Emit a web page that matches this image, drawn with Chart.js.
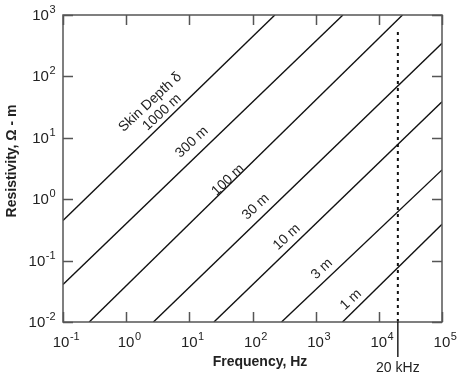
<!DOCTYPE html>
<html>
<head>
<meta charset="utf-8">
<script src="https://cdn.jsdelivr.net/npm/chart.js@4/dist/chart.umd.min.js"></script>
<style>
  body { margin: 0; background: #fff; }
  #grafico { display: block; }
</style>
</head>
<body>
<canvas id="grafico" width="460" height="379"></canvas>
<script>
// Datos (extremos de cada recta de profundidad)
const profundidades = ['1000 m', '300 m', '100 m', '30 m', '10 m', '3 m', '1 m'];
const frecInicio = [0.1, 0.1, 0.26, 2.7, 24.5, 288, 2660];
const resInicio = [0.45, 0.041, 0.01, 0.01, 0.01, 0.01, 0.01];
const frecFin = [226, 2700, 23700, 100000, 100000, 100000, 100000];
const resFin = [1000, 1000, 1000, 347, 38.7, 3.0, 0.39];

// Línea de 20 kHz
const frecMarca = [20000, 20000];
const resMarca = [0.01, 600];

// Exponentes de las marcas de los ejes
const expX = [-1, 0, 1, 2, 3, 4, 5];
const expY = [-2, -1, 0, 1, 2, 3];

// Etiquetas sobre las rectas (en coordenadas de datos)
const etiquetas = [
    { texto: 'Skin Depth \u03b4', f: 2.4, r: 38 },
    { texto: '1000 m', f: 3.7, r: 26 },
    { texto: '300 m', f: 11, r: 8.5 },
    { texto: '100 m', f: 41, r: 2.05 },
    { texto: '30 m', f: 113, r: 0.75 },
    { texto: '10 m', f: 350, r: 0.242 },
    { texto: '3 m', f: 1250, r: 0.073 },
    { texto: '1 m', f: 3600, r: 0.023 }
];

const datasets = profundidades.map((p, i) => ({
    label: p,
    data: [{ x: frecInicio[i], y: resInicio[i] }, { x: frecFin[i], y: resFin[i] }],
    borderColor: '#111',
    borderWidth: 1.4,
    pointRadius: 0,
    fill: false
}));

datasets.push({
    label: '20 kHz',
    data: frecMarca.map((f, i) => ({ x: f, y: resMarca[i] })),
    borderColor: '#111',
    borderWidth: 2,
    borderDash: [3, 4],
    pointRadius: 0,
    fill: false
});

// Dibuja texto "10" con exponente
function potencia(ctx, exp, x, y, align) {
    const base = '10';
    const sup = exp < 0 ? '-' + Math.abs(exp) : String(exp);
    ctx.font = '15px "Liberation Sans", Arial, sans-serif';
    const wb = ctx.measureText(base).width;
    ctx.font = '11px "Liberation Sans", Arial, sans-serif';
    const ws = ctx.measureText(sup).width;
    let x0;
    if (align === 'right') x0 = x - wb - ws;
    else x0 = x - (wb + ws) / 2;
    ctx.textAlign = 'left';
    ctx.textBaseline = 'alphabetic';
    ctx.font = '15px "Liberation Sans", Arial, sans-serif';
    ctx.fillText(base, x0, y);
    ctx.font = '11px "Liberation Sans", Arial, sans-serif';
    ctx.fillText(sup, x0 + wb + 0.5, y - 7);
}

const dibujoExtra = {
    id: 'dibujoExtra',
    afterDatasetsDraw(chart) {
        const ctx = chart.ctx;
        const a = chart.chartArea;
        const sx = chart.scales.x;
        const sy = chart.scales.y;
        ctx.save();

        // Marco
        ctx.strokeStyle = '#555';
        ctx.lineWidth = 1.5;
        ctx.strokeRect(a.left, a.top, a.right - a.left, a.bottom - a.top);

        // Marcas hacia adentro
        ctx.beginPath();
        expX.forEach(e => {
            const px = Math.round(sx.getPixelForValue(Math.pow(10, e))) + 0.5;
            ctx.moveTo(px, a.bottom); ctx.lineTo(px, a.bottom - 10);
            ctx.moveTo(px, a.top); ctx.lineTo(px, a.top + 10);
        });
        expY.forEach(e => {
            const py = Math.round(sy.getPixelForValue(Math.pow(10, e))) + 0.5;
            ctx.moveTo(a.left, py); ctx.lineTo(a.left + 10, py);
            ctx.moveTo(a.right, py); ctx.lineTo(a.right - 10, py);
        });
        ctx.stroke();

        // Etiquetas de marcas
        ctx.fillStyle = '#222';
        expX.forEach(e => {
            potencia(ctx, e, sx.getPixelForValue(Math.pow(10, e)) + 3, a.bottom + 25, 'center');
        });
        expY.forEach(e => {
            potencia(ctx, e, a.left - 8, sy.getPixelForValue(Math.pow(10, e)) + 5, 'right');
        });

        // Marca 20 kHz bajo el eje
        const x20 = sx.getPixelForValue(20000);
        ctx.strokeStyle = '#111';
        ctx.lineWidth = 1.4;
        ctx.beginPath();
        ctx.moveTo(x20, a.bottom);
        ctx.lineTo(x20, a.bottom + 35);
        ctx.stroke();
        ctx.font = '14px "Liberation Sans", Arial, sans-serif';
        ctx.textAlign = 'center';
        ctx.textBaseline = 'middle';
        ctx.fillText('20 kHz', x20, a.bottom + 46);

        // Títulos de ejes
        ctx.font = 'bold 14px "Liberation Sans", Arial, sans-serif';
        ctx.fillText('Frequency, Hz', 260, a.bottom + 40);
        ctx.save();
        ctx.translate(12, 161);
        ctx.rotate(-Math.PI / 2);
        ctx.fillText('Resistivity, \u03a9 - m', 0, 0);
        ctx.restore();

        // Etiquetas sobre las rectas
        ctx.font = '14px "Liberation Sans", Arial, sans-serif';
        etiquetas.forEach(et => {
            ctx.save();
            ctx.translate(sx.getPixelForValue(et.f), sy.getPixelForValue(et.r));
            ctx.rotate(-43 * Math.PI / 180);
            ctx.fillText(et.texto, 0, 0);
            ctx.restore();
        });

        ctx.restore();
    }
};

new Chart(document.getElementById('grafico').getContext('2d'), {
    type: 'line',
    data: { datasets: datasets },
    options: {
        responsive: false,
        animation: false,
        layout: { padding: { top: 15, right: 18, left: 0, bottom: 0 } },
        plugins: {
            legend: { display: false },
            tooltip: { enabled: false }
        },
        scales: {
            x: {
                type: 'logarithmic',
                min: 0.1,
                max: 100000,
                ticks: { display: false },
                grid: { display: false },
                border: { display: false },
                afterFit: s => { s.height = 57; }
            },
            y: {
                type: 'logarithmic',
                min: 0.01,
                max: 1000,
                ticks: { display: false },
                grid: { display: false },
                border: { display: false },
                afterFit: s => { s.width = 63; }
            }
        }
    },
    plugins: [dibujoExtra]
});
</script>
</body>
</html>
